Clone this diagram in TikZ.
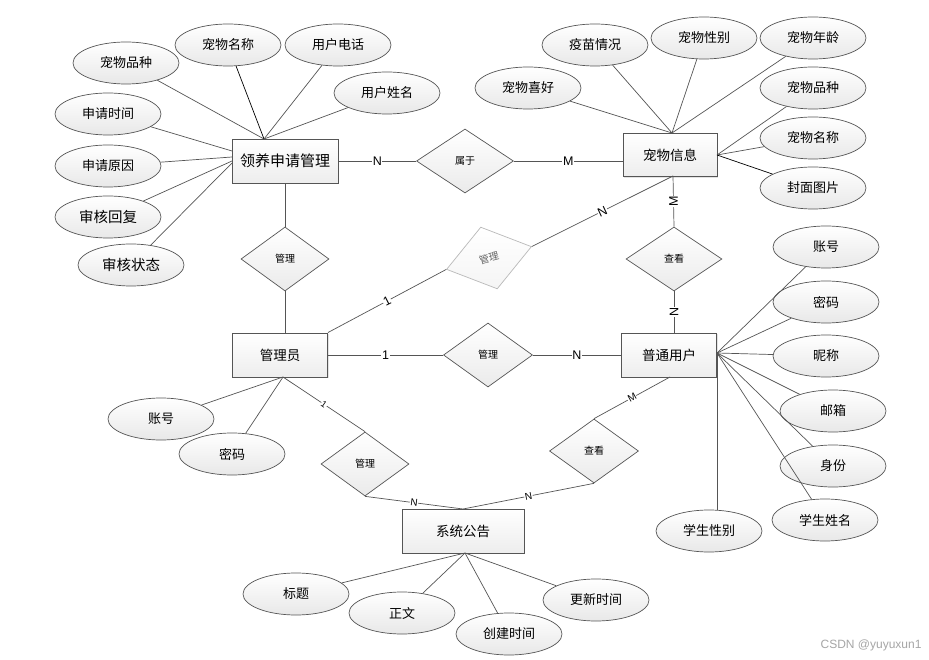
\documentclass[tikz,border=0pt]{standalone}
\usepackage{fontspec}
\setmainfont{Liberation Sans}
\newfontfamily\cjk{Noto Sans CJK SC}
\usetikzlibrary{shapes.geometric,shadows}
\definecolor{ln}{HTML}{555555}
\tikzset{
  ent/.style={draw=ln, line width=0.9pt, rectangle, top color=white, bottom color=gray!14,
    minimum height=44pt, inner sep=0pt, font=\cjk\fontsize{13.5}{13.5}\selectfont,
    drop shadow={opacity=0.22, shadow xshift=1.2pt, shadow yshift=-1.2pt}},
  attr/.style={draw=ln, line width=0.7pt, ellipse, minimum width=106pt, minimum height=42pt,
    inner sep=0pt, top color=white, bottom color=gray!18, font=\cjk\fontsize{13}{13}\selectfont},
  bigattr/.style={attr, font=\cjk\fontsize{14.5}{14.5}\selectfont},
  rel/.style={draw=ln, line width=0.7pt, diamond, minimum width=88pt, minimum height=64pt,
    inner sep=0pt, top color=white, bottom color=gray!16, font=\cjk\fontsize{10}{10}\selectfont},
  lnk/.style={draw=ln, line width=0.7pt},
  card/.style={fill=white, inner sep=0.6pt, font=\fontsize{12.5}{12.5}\selectfont},
  smallcard/.style={card, font=\fontsize{10}{10}\selectfont},
}
\begin{document}
\begin{tikzpicture}[x=1pt,y=-1pt]
\useasboundingbox (0,0) rectangle (929,660);
\fill[white] (0,0) rectangle (929,660);

% entities
\node[ent, minimum width=106pt, font=\cjk\fontsize{15}{15}\selectfont] (e1) at (285,161) {领养申请管理};
\node[ent, minimum width=94pt, minimum height=43pt] (e2) at (670,155) {宠物信息};
\node[ent, minimum width=95pt] (e3) at (280,355) {管理员};
\node[ent, minimum width=95pt] (e4) at (669,355) {普通用户};
\node[ent, minimum width=122pt] (e5) at (463,531) {系统公告};

% relationships
\node[rel, minimum width=97pt] (r1) at (465,161) {属于};
\node[rel] (r2) at (285,259) {管理};
\node[rel, rotate=15, draw=gray!55, top color=white, bottom color=gray!8, text=gray!80!black] (r3) at (489,258) {管理};
\node[rel, minimum width=96pt] (r4) at (674,259) {查看};
\node[rel, minimum width=89pt] (r5) at (488,355) {管理};
\node[rel] (r6) at (365,464) {管理};
\node[rel, minimum width=89pt] (r7) at (594,451) {查看};

% attachment points on entities
\coordinate (e1t) at (264,139);
\coordinate (e1l1) at (232,151);
\coordinate (e1l2) at (232,157);
\coordinate (e1l3) at (232,161);
\coordinate (e1l4) at (232,163);
\coordinate (e2t) at (672,133);
\coordinate (e2r) at (717,155);
\coordinate (e2b) at (673,176);
\coordinate (e3b) at (283,377);
\coordinate (e4r) at (717,353);
\coordinate (e4b) at (670,377);
\coordinate (e5t) at (463,509);
\coordinate (e5b) at (465,553);

% attributes of 领养申请管理
\node[attr] (a11) at (126,63) {宠物品种};
\node[attr] (a12) at (228,45) {宠物名称};
\node[attr] (a13) at (338,45) {用户电话};
\node[attr] (a14) at (387,93) {用户姓名};
\node[attr] (a15) at (108,114) {申请时间};
\node[attr] (a16) at (108,166) {申请原因};
\node[bigattr] (a17) at (108,217) {审核回复};
\node[bigattr] (a18) at (131,265) {审核状态};

% attributes of 宠物信息
\node[attr] (a21) at (528,88) {宠物喜好};
\node[attr] (a22) at (595,45) {疫苗情况};
\node[attr] (a23) at (704,38) {宠物性别};
\node[attr] (a24) at (813,38) {宠物年龄};
\node[attr] (a25) at (813,88) {宠物品种};
\node[attr] (a26) at (813,138) {宠物名称};
\node[attr] (a27) at (813,188) {封面图片};

% attributes of 普通用户
\node[attr] (a41) at (826,247) {账号};
\node[attr] (a42) at (826,302) {密码};
\node[attr] (a43) at (826,356) {昵称};
\node[attr] (a44) at (833,411) {邮箱};
\node[attr] (a45) at (833,466) {身份};
\node[attr] (a46) at (825,520) {学生姓名};
\node[attr] (a47) at (709,531) {学生性别};

% attributes of 管理员
\node[attr] (a31) at (161,419) {账号};
\node[attr] (a32) at (232,454) {密码};

% attributes of 系统公告
\node[attr] (a51) at (296,594) {标题};
\node[attr] (a52) at (402,613) {正文};
\node[attr] (a53) at (509,634) {创建时间};
\node[attr] (a54) at (596,600) {更新时间};

% attribute links
\draw[lnk] (a11) -- (e1t);
\draw[lnk, draw=black] (a12) -- (e1t);
\draw[lnk] (a13) -- (e1t);
\draw[lnk] (a14) -- (e1t);
\draw[lnk] (a15) -- (e1l1);
\draw[lnk] (a16) -- (e1l2);
\draw[lnk] (a17) -- (e1l3);
\draw[lnk] (a18) -- (e1l4);

\draw[lnk] (a21) -- (e2t);
\draw[lnk] (a22) -- (e2t);
\draw[lnk] (a23) -- (e2t);
\draw[lnk] (a24) -- (e2t);
\draw[lnk] (a25) -- (e2r);
\draw[lnk] (a26) -- (e2r);
\draw[lnk, draw=black] (a27) -- (e2r);

\draw[lnk] (a41) -- (e4r);
\draw[lnk] (a42) -- (e4r);
\draw[lnk] (a43) -- (e4r);
\draw[lnk] (a44) -- (e4r);
\draw[lnk] (a45) -- (e4r);
\draw[lnk] (a46) -- (e4r);
\draw[lnk] (e4r) -- (a47.north -| e4r);

\draw[lnk] (a31) -- (e3b);
\draw[lnk] (a32) -- (e3b);

\draw[lnk] (a51) -- (e5b);
\draw[lnk] (a52) -- (e5b);
\draw[lnk] (a53) -- (e5b);
\draw[lnk] (a54) -- (e5b);

% relationship links with cardinalities
\draw[lnk] (e1.east) -- node[card] {N} (r1.west);
\draw[lnk] (r1.east) -- node[card] {M} (r1.east -| e2.west);
\draw[lnk] (e1.south) -- (r2.north);
\draw[lnk] (r2.south) -- (e3.north -| r2.south);
\draw[lnk] (e3.north east) -- node[card, rotate=27] {1} (r3.west);
\draw[lnk] (r3.east) -- node[card, rotate=25] {N} (e2b);
\draw[lnk] (e2b) -- node[card, rotate=90] {M} (r4.north);
\draw[lnk] (r4.south) -- node[card, rotate=90] {N} (r4.south |- e4.north);
\draw[lnk] (e3.east) -- node[card] {1} (r5.west);
\draw[lnk] (r5.east) -- node[card] {N} (e4.west);
\draw[lnk] (e3b) -- node[smallcard, rotate=-35, font=\fontsize{9}{9}\selectfont] {1} (r6.north);
\draw[lnk] (r6.south) -- node[smallcard, rotate=-7] {N} (e5t);
\draw[lnk] (e4b) -- node[smallcard, rotate=29] {M} (r7.north);
\draw[lnk] (r7.south) -- node[smallcard, rotate=11] {N} (e5t);

% watermark
\node[text=gray!70, font=\fontsize{12}{12}\selectfont, anchor=east] (wm) at (925,645) {CSDN @yuyuxun1};
\end{tikzpicture}
\end{document}
